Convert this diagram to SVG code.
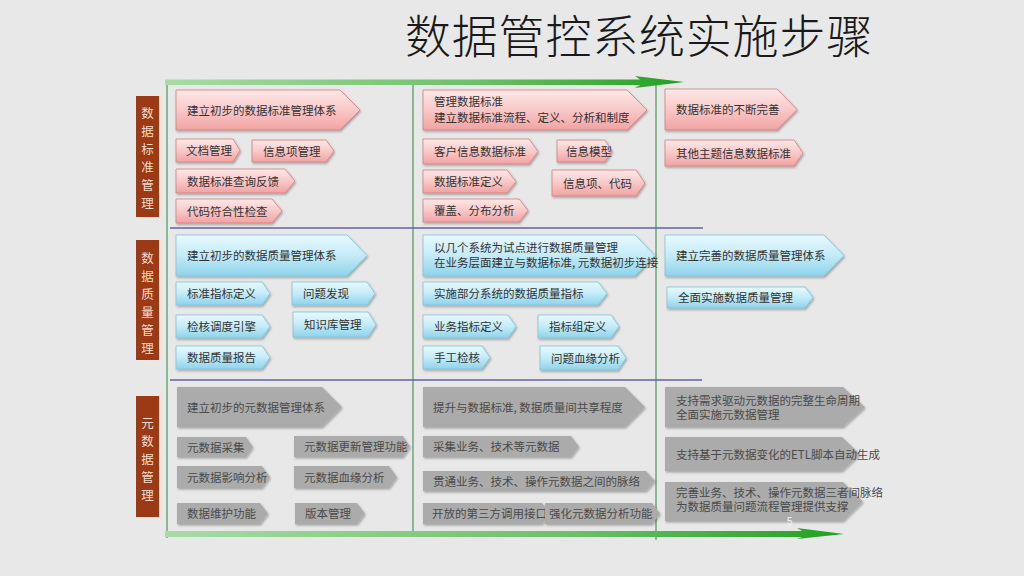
<svg xmlns="http://www.w3.org/2000/svg" width="1024" height="576" viewBox="0 0 1024 576">
<style>
.t{font-family:"Noto Sans CJK SC","Noto Sans",sans-serif;font-size:11.5px;fill:#333}
.tg{font-family:"Noto Sans CJK SC","Noto Sans",sans-serif;font-size:11.5px;fill:#4a4a4a}
.pk{fill:url(#gPink);stroke:#d27f7f;stroke-width:0.8;filter:url(#sh)}
.bl{fill:url(#gBlue);stroke:#7cc3da;stroke-width:0.8;filter:url(#sh)}
.gy{fill:#ababab;filter:url(#sh)}
.lab{fill:#9b3a14}
.labt{font-family:"Noto Sans CJK SC",sans-serif;font-size:12.5px;fill:#f3dccd;text-anchor:middle}
.vl{stroke:#6aa878;stroke-width:1.5;fill:none}
.hl{stroke:#6262aa;stroke-width:1.5;fill:none}
</style>
<defs>
<linearGradient id="gPink" x1="0" y1="0" x2="0" y2="1">
<stop offset="0" stop-color="#fde8e8"/><stop offset="0.5" stop-color="#f9c8c8"/><stop offset="1" stop-color="#f2a2a2"/>
</linearGradient>
<linearGradient id="gBlue" x1="0" y1="0" x2="0" y2="1">
<stop offset="0" stop-color="#e8f9fe"/><stop offset="0.5" stop-color="#c4ebf7"/><stop offset="1" stop-color="#8ed3eb"/>
</linearGradient>
<linearGradient id="gArr" x1="0" y1="0" x2="1" y2="0">
<stop offset="0" stop-color="#a9dba6"/><stop offset="0.6" stop-color="#6cc068"/><stop offset="1" stop-color="#22a022"/>
</linearGradient>
<filter id="sh" x="-10%" y="-20%" width="130%" height="160%">
<feDropShadow dx="1" dy="1.5" stdDeviation="1" flood-color="#000" flood-opacity="0.3"/>
</filter>
</defs>
<rect width="1024" height="576" fill="#e8e8e8"/>
<text x="405" y="53" style="font-family:'Noto Sans CJK SC',sans-serif;font-size:46px;font-weight:300;letter-spacing:0.8px;fill:#1a1a1a">数据管控系统实施步骤</text>

<g id="grid">
<line class="vl" x1="167" y1="80" x2="167" y2="538"/>
<line class="vl" x1="413" y1="80" x2="413" y2="532"/>
<line class="vl" x1="656" y1="80" x2="656" y2="540"/>
<line class="hl" x1="170" y1="228" x2="703" y2="228"/>
<line class="hl" x1="170" y1="380" x2="702" y2="380"/>
</g>

<g id="connectors">
<path d="M165,79.5 H640 L635,76 L684,82 L635,88 L640,85 H165 Z" fill="url(#gArr)"/>
<path d="M165,531 H802 L797,528 L844,534 L797,539 L802,537 H165 Z" fill="url(#gArr)"/>
</g>

<g id="label-standard">
<rect class="lab" x="136" y="96" width="23" height="121"/>
<text class="labt" x="147.5" y="118">数</text><text class="labt" x="147.5" y="136">据</text><text class="labt" x="147.5" y="154">标</text><text class="labt" x="147.5" y="172">准</text><text class="labt" x="147.5" y="190">管</text><text class="labt" x="147.5" y="208">理</text>
</g>
<g id="label-quality">
<rect class="lab" x="136" y="240" width="23" height="120"/>
<text class="labt" x="147.5" y="263">数</text><text class="labt" x="147.5" y="281">据</text><text class="labt" x="147.5" y="299">质</text><text class="labt" x="147.5" y="317">量</text><text class="labt" x="147.5" y="335">管</text><text class="labt" x="147.5" y="353">理</text>
</g>
<g id="label-meta">
<rect class="lab" x="136" y="396" width="23" height="121"/>
<text class="labt" x="147.5" y="428">元</text><text class="labt" x="147.5" y="446">数</text><text class="labt" x="147.5" y="464">据</text><text class="labt" x="147.5" y="482">管</text><text class="labt" x="147.5" y="500">理</text>
</g>

<!-- Row 1: pink -->
<g id="n1"><path class="pk" d="M176,90 H340 L360,110 L340,130 H176 Z"/><text class="t" x="187" y="114.5">建立初步的数据标准管理体系</text></g>
<g id="n2"><path class="pk" d="M176,139 H233 L240,150.5 L233,162 H176 Z"/><text class="t" x="186" y="155">文档管理</text></g>
<g id="n3"><path class="pk" d="M252,140 H326 L334,151 L326,162 H252 Z"/><text class="t" x="263" y="155.5">信息项管理</text></g>
<g id="n4"><path class="pk" d="M176,169 H285 L295,181 L285,193 H176 Z"/><text class="t" x="187" y="185.5">数据标准查询反馈</text></g>
<g id="n5"><path class="pk" d="M176,199 H272 L282,211 L272,223 H176 Z"/><text class="t" x="187" y="215.5">代码符合性检查</text></g>
<g id="n6"><path class="pk" d="M423,90 H627 L647,110 L627,130 H423 Z"/><text class="t" x="434" y="106">管理数据标准</text><text class="t" x="434" y="121.5">建立数据标准流程、定义、分析和制度</text></g>
<g id="n7"><path class="pk" d="M423,139 H529 L538,151.5 L529,164 H423 Z"/><text class="t" x="434" y="156">客户信息数据标准</text></g>
<g id="n8"><path class="pk" d="M557,140 H605 L612,151 L605,162 H557 Z"/><text class="t" x="566" y="155.5">信息模型</text></g>
<g id="n9"><path class="pk" d="M423,170 H507 L516,181.5 L507,193 H423 Z"/><text class="t" x="434" y="186">数据标准定义</text></g>
<g id="n10"><path class="pk" d="M552,170 H636 L645,183 L636,196 H552 Z"/><text class="t" x="563" y="187.5">信息项、代码</text></g>
<g id="n11"><path class="pk" d="M423,199 H519 L528,210.5 L519,222 H423 Z"/><text class="t" x="434" y="215">覆盖、分布分析</text></g>
<g id="n12"><path class="pk" d="M665,89 H777 L797,109.5 L777,130 H665 Z"/><text class="t" x="676" y="114">数据标准的不断完善</text></g>
<g id="n13"><path class="pk" d="M665,140 H794 L803,153 L794,166 H665 Z"/><text class="t" x="676" y="157.5">其他主题信息数据标准</text></g>

<!-- Row 2: blue -->
<g id="n14"><path class="bl" d="M176,235 H347 L367,255.5 L347,276 H176 Z"/><text class="t" x="187" y="260">建立初步的数据质量管理体系</text></g>
<g id="n15"><path class="bl" d="M176,282 H262 L270,293.5 L262,305 H176 Z"/><text class="t" x="187" y="298">标准指标定义</text></g>
<g id="n16"><path class="bl" d="M292,282 H367 L375,293.5 L367,305 H292 Z"/><text class="t" x="303" y="298">问题发现</text></g>
<g id="n17"><path class="bl" d="M176,315 H262 L270,326.5 L262,338 H176 Z"/><text class="t" x="187" y="331">检核调度引擎</text></g>
<g id="n18"><path class="bl" d="M293,312 H368 L376,324.5 L368,337 H293 Z"/><text class="t" x="304" y="329">知识库管理</text></g>
<g id="n19"><path class="bl" d="M176,346 H262 L270,357.5 L262,369 H176 Z"/><text class="t" x="187" y="362">数据质量报告</text></g>
<g id="n20"><path class="bl" d="M423,235 H635 L655,255.5 L635,276 H423 Z"/><text class="t" x="434" y="252">以几个系统为试点进行数据质量管理</text><text class="t" x="434" y="267">在业务层面建立与数据标准, 元数据初步连接</text></g>
<g id="n21"><path class="bl" d="M423,282 H598 L607,293.5 L598,305 H423 Z"/><text class="t" x="434" y="298">实施部分系统的数据质量指标</text></g>
<g id="n22"><path class="bl" d="M423,315 H508 L516,326.5 L508,338 H423 Z"/><text class="t" x="434" y="331">业务指标定义</text></g>
<g id="n23"><path class="bl" d="M538,315 H611 L619,326.5 L611,338 H538 Z"/><text class="t" x="549" y="331">指标组定义</text></g>
<g id="n24"><path class="bl" d="M423,346 H482 L490,357.5 L482,369 H423 Z"/><text class="t" x="434" y="362">手工检核</text></g>
<g id="n25"><path class="bl" d="M540,346 H618 L626,358 L618,370 H540 Z"/><text class="t" x="551" y="362.5">问题血缘分析</text></g>
<g id="n26"><path class="bl" d="M665,235 H824 L844,255.5 L824,276 H665 Z"/><text class="t" x="676" y="260">建立完善的数据质量管理体系</text></g>
<g id="n27"><path class="bl" d="M667,287 H805 L813,297.5 L805,308 H667 Z"/><text class="t" x="678" y="302">全面实施数据质量管理</text></g>

<!-- Row 3: gray -->
<g id="n28"><path class="gy" d="M177,387 H322 L342,407 L322,427 H177 Z"/><text class="tg" x="187" y="411.5">建立初步的元数据管理体系</text></g>
<g id="n29"><path class="gy" d="M177,437 H246 L253,447 L246,457 H177 Z"/><text class="tg" x="187" y="451.5">元数据采集</text></g>
<g id="n30"><path class="gy" d="M294,436 H403 L410,446.5 L403,457 H294 Z"/><text class="tg" x="304" y="451">元数据更新管理功能</text></g>
<g id="n31"><path class="gy" d="M177,466 H262 L270,477 L262,488 H177 Z"/><text class="tg" x="187" y="481.5">元数据影响分析</text></g>
<g id="n32"><path class="gy" d="M294,466 H389 L397,477 L389,488 H294 Z"/><text class="tg" x="304" y="481.5">元数据血缘分析</text></g>
<g id="n33"><path class="gy" d="M177,503 H260 L268,513.5 L260,524 H177 Z"/><text class="tg" x="187" y="518">数据维护功能</text></g>
<g id="n34"><path class="gy" d="M295,503 H357 L365,513.5 L357,524 H295 Z"/><text class="tg" x="305" y="518">版本管理</text></g>
<g id="n35"><path class="gy" d="M423,387 H625 L645,407 L625,427 H423 Z"/><text class="tg" x="433" y="411.5">提升与数据标准, 数据质量间共享程度</text></g>
<g id="n36"><path class="gy" d="M423,436 H571 L579,446.5 L571,457 H423 Z"/><text class="tg" x="433" y="451">采集业务、技术等元数据</text></g>
<g id="n37"><path class="gy" d="M423,471 H646 L655,481 L646,491 H423 Z"/><text class="tg" x="433" y="485.5">贯通业务、技术、操作元数据之间的脉络</text></g>
<g id="n38"><path class="gy" d="M423,503 H542 L550,513.5 L542,524 H423 Z"/><text class="tg" x="432" y="518">开放的第三方调用接口</text></g>
<g id="n39"><path class="gy" d="M545,503 H652 L660,513.5 L652,524 H545 Z"/><text class="tg" x="549" y="518">强化元数据分析功能</text></g>
<g id="n40"><path class="gy" d="M665,387 H843 L865,407 L843,427 H665 Z"/><text class="tg" x="676" y="404.5">支持需求驱动元数据的完整生命周期</text><text class="tg" x="676" y="418.5">全面实施元数据管理</text></g>
<g id="n41"><path class="gy" d="M665,437 H842 L860,454 L842,471 H665 Z"/><text class="tg" x="676" y="458.5">支持基于元数据变化的ETL脚本自动生成</text></g>
<g id="n42"><path class="gy" d="M665,482 H843 L863,501.5 L843,521 H665 Z"/><text class="tg" x="676" y="497">完善业务、技术、操作元数据三者间脉络</text><text class="tg" x="676" y="511">为数据质量问题流程管理提供支撑</text></g>

<text x="787" y="525" style="font-family:'Liberation Sans',sans-serif;font-size:10px;fill:#f4f4f4">5</text>
</svg>
